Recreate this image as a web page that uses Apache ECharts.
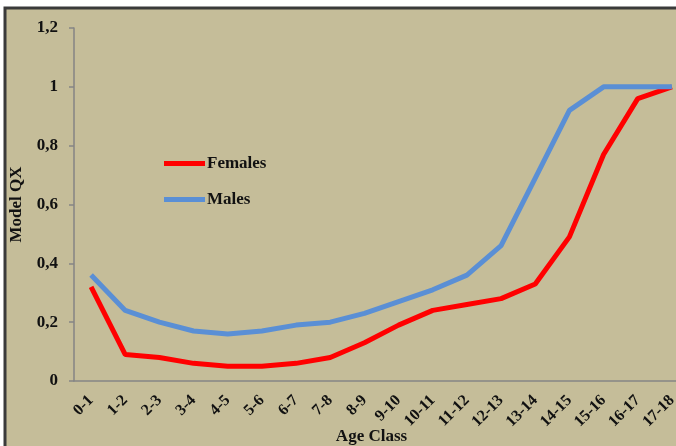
<!DOCTYPE html>
<html>
<head>
<meta charset="utf-8">
<script src="https://cdn.jsdelivr.net/npm/echarts@6/dist/echarts.min.js"></script>
<style>
  html, body { margin: 0; padding: 0; background: #fff; }
  #chart { width: 676px; height: 446px; }
</style>
</head>
<body>
<div id="chart"></div>
<script>
const ageClasses = ["0-1", "1-2", "2-3", "3-4", "4-5", "5-6", "6-7", "7-8", "8-9", "9-10",
  "10-11", "11-12", "12-13", "13-14", "14-15", "15-16", "16-17", "17-18"];
const females = [0.32, 0.09, 0.08, 0.06, 0.05, 0.05, 0.06, 0.08, 0.13, 0.19,
  0.24, 0.26, 0.28, 0.33, 0.49, 0.77, 0.96, 1.0];
const males = [0.36, 0.24, 0.20, 0.17, 0.16, 0.17, 0.19, 0.20, 0.23, 0.27,
  0.31, 0.36, 0.46, 0.69, 0.92, 1.0, 1.0, 1.0];

const serif = "Liberation Serif";
const axisGray = "#858585";

const chart = echarts.init(document.getElementById("chart"));

chart.setOption({
  backgroundColor: "#fff",
  animation: false,
  // panel with dark frame
  graphic: [{
    type: "rect",
    z: -10,
    shape: { x: 5, y: 8, width: 720, height: 480 },
    style: { fill: "#C5BD99", stroke: "#3a3a3a", lineWidth: 3 }
  }],
  grid: { left: 74, top: 28, bottom: 65, width: 615, outerBoundsMode: "none", containLabel: false },
  legend: {
    orient: "vertical",
    left: 159,
    top: 150,
    itemGap: 19,
    itemWidth: 41,
    itemHeight: 5,
    icon: "rect",
    textStyle: { fontFamily: serif, fontWeight: "bold", fontSize: 17, color: "#111", lineHeight: 17, padding: [0, 0, 0, -3] },
    data: ["Females", "Males"]
  },
  xAxis: {
    type: "category",
    data: ageClasses,
    boundaryGap: true,
    name: "Age Class",
    nameLocation: "middle",
    nameGap: 47,
    nameMoveOverlap: false,
    nameTextStyle: { fontFamily: serif, fontWeight: "bold", fontSize: 17, color: "#111", padding: [0, 20, 0, 0] },
    axisLine: { lineStyle: { color: axisGray, width: 1.5 } },
    axisTick: { length: 5, lineStyle: { color: axisGray, width: 1.5 } },
    axisLabel: { rotate: 45, interval: 0, margin: 17, fontFamily: serif, fontWeight: "bold", fontSize: 16, color: "#111" }
  },
  yAxis: {
    type: "value",
    min: 0,
    max: 1.2,
    interval: 0.2,
    name: "Model QX",
    nameLocation: "middle",
    nameGap: 49,
    nameMoveOverlap: false,
    nameTextStyle: { fontFamily: serif, fontWeight: "bold", fontSize: 17, color: "#111" },
    splitLine: { show: false },
    axisLine: { show: true, lineStyle: { color: axisGray, width: 1.5 } },
    axisTick: { show: true, length: 5, lineStyle: { color: axisGray, width: 1.5 } },
    axisLabel: {
      margin: 16,
      fontFamily: serif, fontWeight: "bold", fontSize: 17, color: "#111",
      formatter: v => String(Math.round(v * 10) / 10).replace(".", ",")
    }
  },
  series: [
    {
      name: "Females", type: "line", data: females, symbol: "none",
      lineStyle: { color: "#FF0000", width: 5 }, itemStyle: { color: "#FF0000" }
    },
    {
      name: "Males", type: "line", data: males, symbol: "none",
      lineStyle: { color: "#5A8FD5", width: 5 }, itemStyle: { color: "#5A8FD5" }
    }
  ]
});
</script>
</body>
</html>
